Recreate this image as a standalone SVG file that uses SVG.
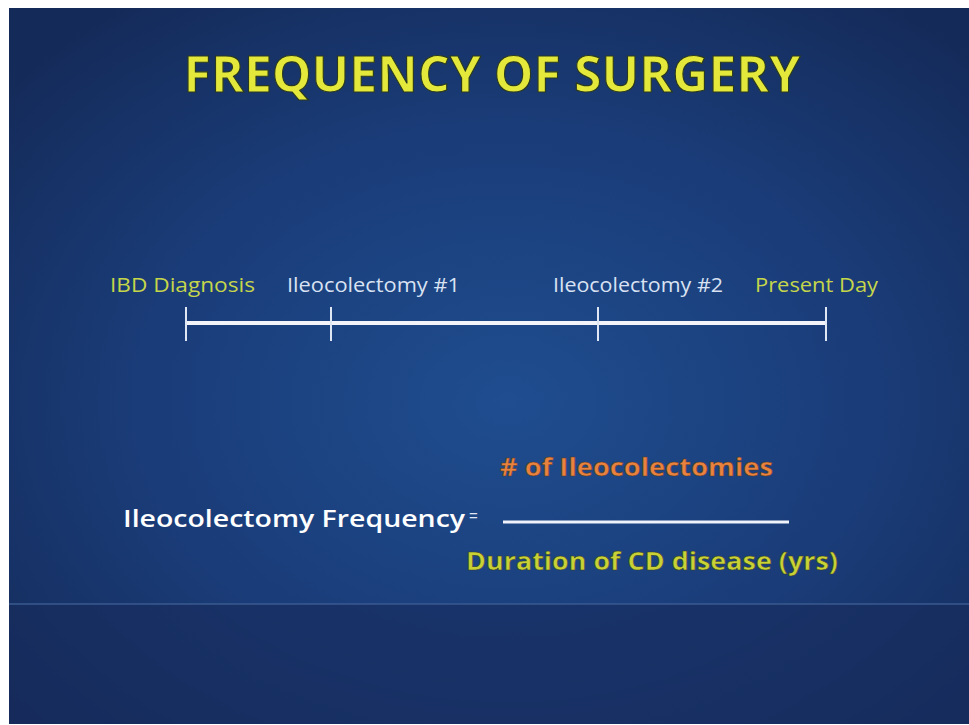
<svg xmlns="http://www.w3.org/2000/svg" width="969" height="725" viewBox="0 0 969 725">
<style>
.lbl{font-family:"Open Sans","Liberation Sans",sans-serif;font-size:20px}
.green{fill:#c6d64a}
.pale{fill:#d9e2f2}
.tl{stroke:#f2f4fa;stroke-width:4;fill:none}
.tick{stroke:#dfe6f4;stroke-width:2;fill:none}
.big{font-family:"Open Sans","Liberation Sans",sans-serif;font-weight:bold;font-size:25px}
</style>
<defs>
<radialGradient id="bg" cx="0.52" cy="0.55" r="0.7">
<stop offset="0" stop-color="#1f4d8f"/>
<stop offset="0.55" stop-color="#1a3c78"/>
<stop offset="1" stop-color="#142a58"/>
</radialGradient>
</defs>
<rect width="969" height="725" fill="#ffffff"/>
<rect x="9" y="8" width="960" height="716" fill="url(#bg)"/>
<rect x="9" y="604" width="960" height="120" fill="#172c5c" opacity="0.6"/>
<line x1="9" y1="604" x2="969" y2="604" stroke="#3a5a90" stroke-width="1.5"/>
<g id="title">
<text x="492" y="92" text-anchor="middle" font-family="'Open Sans','Liberation Sans',sans-serif" font-weight="bold" font-size="51" fill="#e4e83a" stroke="#2a3a20" stroke-width="1.2" textLength="617" lengthAdjust="spacingAndGlyphs">FREQUENCY OF SURGERY</text>
</g>
<g id="connectors">
<line class="tl" x1="186" y1="323" x2="826" y2="323"/>
<line class="tick" x1="186" y1="307" x2="186" y2="341"/>
<line class="tick" x1="331" y1="307" x2="331" y2="341"/>
<line class="tick" x1="598" y1="307" x2="598" y2="341"/>
<line class="tick" x1="826" y1="307" x2="826" y2="341"/>
</g>
<g id="node-ibd"><text class="lbl green" x="110" y="292" textLength="145" lengthAdjust="spacingAndGlyphs">IBD Diagnosis</text></g>
<g id="node-ileo1"><text class="lbl pale" x="287" y="292" textLength="173" lengthAdjust="spacingAndGlyphs">Ileocolectomy #1</text></g>
<g id="node-ileo2"><text class="lbl pale" x="553" y="292" textLength="170" lengthAdjust="spacingAndGlyphs">Ileocolectomy #2</text></g>
<g id="node-present"><text class="lbl green" x="755" y="292" textLength="123" lengthAdjust="spacingAndGlyphs">Present Day</text></g>
<g id="formula">
<text x="123" y="527" font-family="'Open Sans','Liberation Sans',sans-serif" font-weight="600" font-size="24" fill="#ffffff" textLength="342" lengthAdjust="spacingAndGlyphs">Ileocolectomy Frequency</text>
<text x="469" y="521" font-family="'Liberation Sans',sans-serif" font-size="15" fill="#e0e6f2">=</text>
<line x1="503" y1="522" x2="789" y2="522" stroke="#eef2fa" stroke-width="3"/>
<text class="big" x="500" y="476" fill="#e8823e" stroke="#5a3a20" stroke-width="0.5" textLength="273" lengthAdjust="spacingAndGlyphs"># of Ileocolectomies</text>
<text class="big" x="466" y="570" fill="#c8d236" stroke="#3a4020" stroke-width="0.5" textLength="372" lengthAdjust="spacingAndGlyphs">Duration of CD disease (yrs)</text>
</g>
</svg>
